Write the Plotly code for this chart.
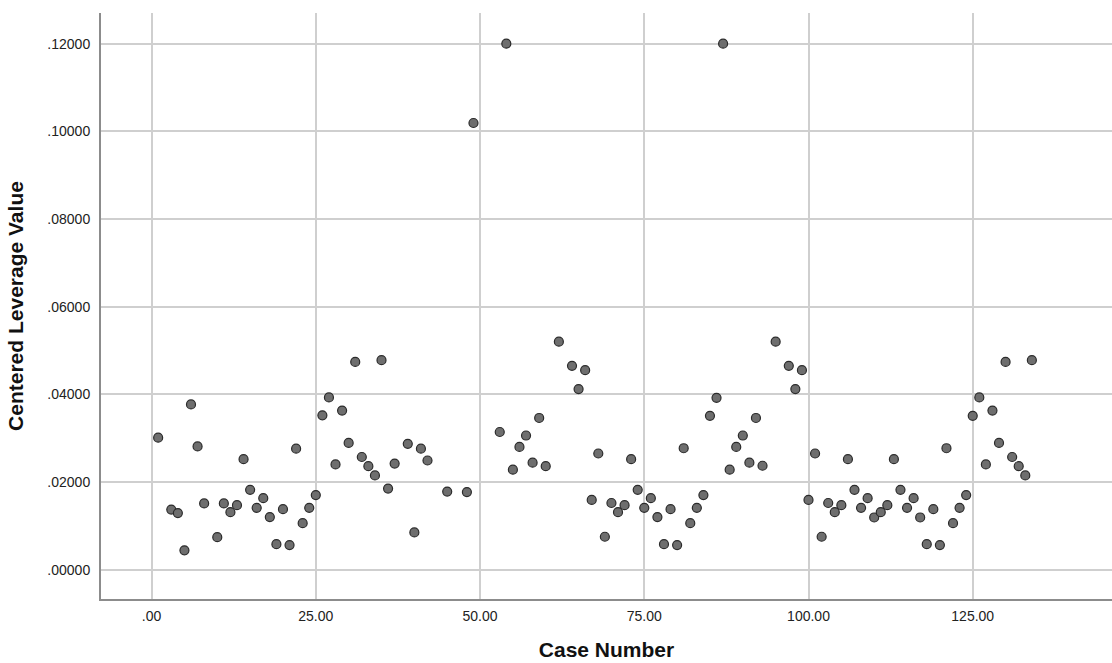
import plotly.graph_objects as go

# Case numbers (cases with missing values are absent)
case_number = [1, 3, 4, 5, 6, 7, 8, 10, 11, 12, 13, 14, 15, 16, 17, 18, 19, 20, 21, 22,
               23, 24, 25, 26, 27, 28, 29, 30, 31, 32, 33, 34, 35, 36, 37, 39, 40, 41, 42,
               45, 48, 49, 53, 54, 55, 56, 57, 58, 59, 60, 62, 64, 65, 66, 67, 68, 69, 70,
               71, 72, 73, 74, 75, 76, 77, 78, 79, 80, 81, 82, 83, 84, 85, 86, 87, 88, 89,
               90, 91, 92, 93, 95, 97, 98, 99, 100, 101, 102, 103, 104, 105, 106, 107, 108,
               109, 110, 111, 112, 113, 114, 115, 116, 117, 118, 119, 120, 121, 122, 123,
               124, 125, 126, 127, 128, 129, 130, 131, 132, 133, 134]

leverage = [0.0301, 0.0137, 0.0129, 0.0044, 0.0377, 0.0281, 0.0151, 0.0074, 0.0151, 0.0131,
            0.0147, 0.0252, 0.0182, 0.0141, 0.0163, 0.0120, 0.0058, 0.0138, 0.0056, 0.0276,
            0.0106, 0.0141, 0.0170, 0.0352, 0.0393, 0.0240, 0.0363, 0.0289, 0.0474, 0.0257,
            0.0236, 0.0215, 0.0478, 0.0185, 0.0242, 0.0287, 0.0085, 0.0276, 0.0249,
            0.0178, 0.0177, 0.1019, 0.0314, 0.1200, 0.0228, 0.0280, 0.0306, 0.0244, 0.0346,
            0.0236, 0.0520, 0.0465, 0.0412, 0.0455, 0.0159, 0.0265, 0.0075, 0.0152,
            0.0131, 0.0147, 0.0252, 0.0182, 0.0141, 0.0163, 0.0120, 0.0058, 0.0138, 0.0056,
            0.0277, 0.0106, 0.0141, 0.0170, 0.0351, 0.0392, 0.1200, 0.0228, 0.0280,
            0.0306, 0.0244, 0.0346, 0.0237, 0.0520, 0.0465, 0.0412, 0.0455, 0.0159, 0.0265,
            0.0075, 0.0152, 0.0131, 0.0147, 0.0252, 0.0182, 0.0141,
            0.0163, 0.0119, 0.0131, 0.0147, 0.0252, 0.0182, 0.0141, 0.0163, 0.0119, 0.0058,
            0.0138, 0.0056, 0.0277, 0.0106, 0.0141,
            0.0170, 0.0351, 0.0393, 0.0240, 0.0363, 0.0289, 0.0474, 0.0257, 0.0236, 0.0215,
            0.0478]

x_tick_vals = [0, 25, 50, 75, 100, 125]
x_tick_text = [".00", "25.00", "50.00", "75.00", "100.00", "125.00"]
y_tick_vals = [0.0, 0.02, 0.04, 0.06, 0.08, 0.10, 0.12]
y_tick_text = [".00000", ".02000", ".04000", ".06000", ".08000", ".10000", ".12000"]

x_title = "Case Number"
y_title = "Centered Leverage Value"

FONT = "Liberation Sans, Arial, sans-serif"

fig = go.Figure()
fig.add_trace(go.Scatter(
    x=case_number, y=leverage, mode="markers",
    marker=dict(size=9, color="#6e6e6e", line=dict(color="#2b2b2b", width=1.2)),
    showlegend=False, cliponaxis=False,
))

fig.update_layout(
    width=1112, height=663,
    margin=dict(l=101, r=0, t=13, b=64),
    paper_bgcolor="white", plot_bgcolor="white",
    font=dict(family=FONT, size=14, color="#222222"),
)

fig.update_xaxes(
    range=[-7.7, 146.2],
    tickvals=x_tick_vals, ticktext=x_tick_text,
    showgrid=True, gridcolor="#cfcfcf", gridwidth=1.5,
    showline=True, linecolor="#8c8c8c", linewidth=2,
    zeroline=False, ticks="", ticklabelstandoff=3,
    tickfont=dict(family=FONT, size=14, color="#222222"),
    title=dict(text=x_title, standoff=20,
               font=dict(family=FONT, size=21, color="#111111", weight="bold")),
)
fig.update_yaxes(
    range=[-0.0067, 0.1270],
    tickvals=y_tick_vals, ticktext=y_tick_text,
    showgrid=True, gridcolor="#cfcfcf", gridwidth=1.5,
    showline=True, linecolor="#8c8c8c", linewidth=2,
    zeroline=False, ticks="", ticklabelstandoff=6,
    tickfont=dict(family=FONT, size=14, color="#222222"),
    title=dict(text=y_title, standoff=18,
               font=dict(family=FONT, size=21, color="#111111", weight="bold")),
)

fig.write_html("out.html",
               config={"displayModeBar": False},
               post_script="document.body.style.margin='0';document.body.style.padding='0';")
